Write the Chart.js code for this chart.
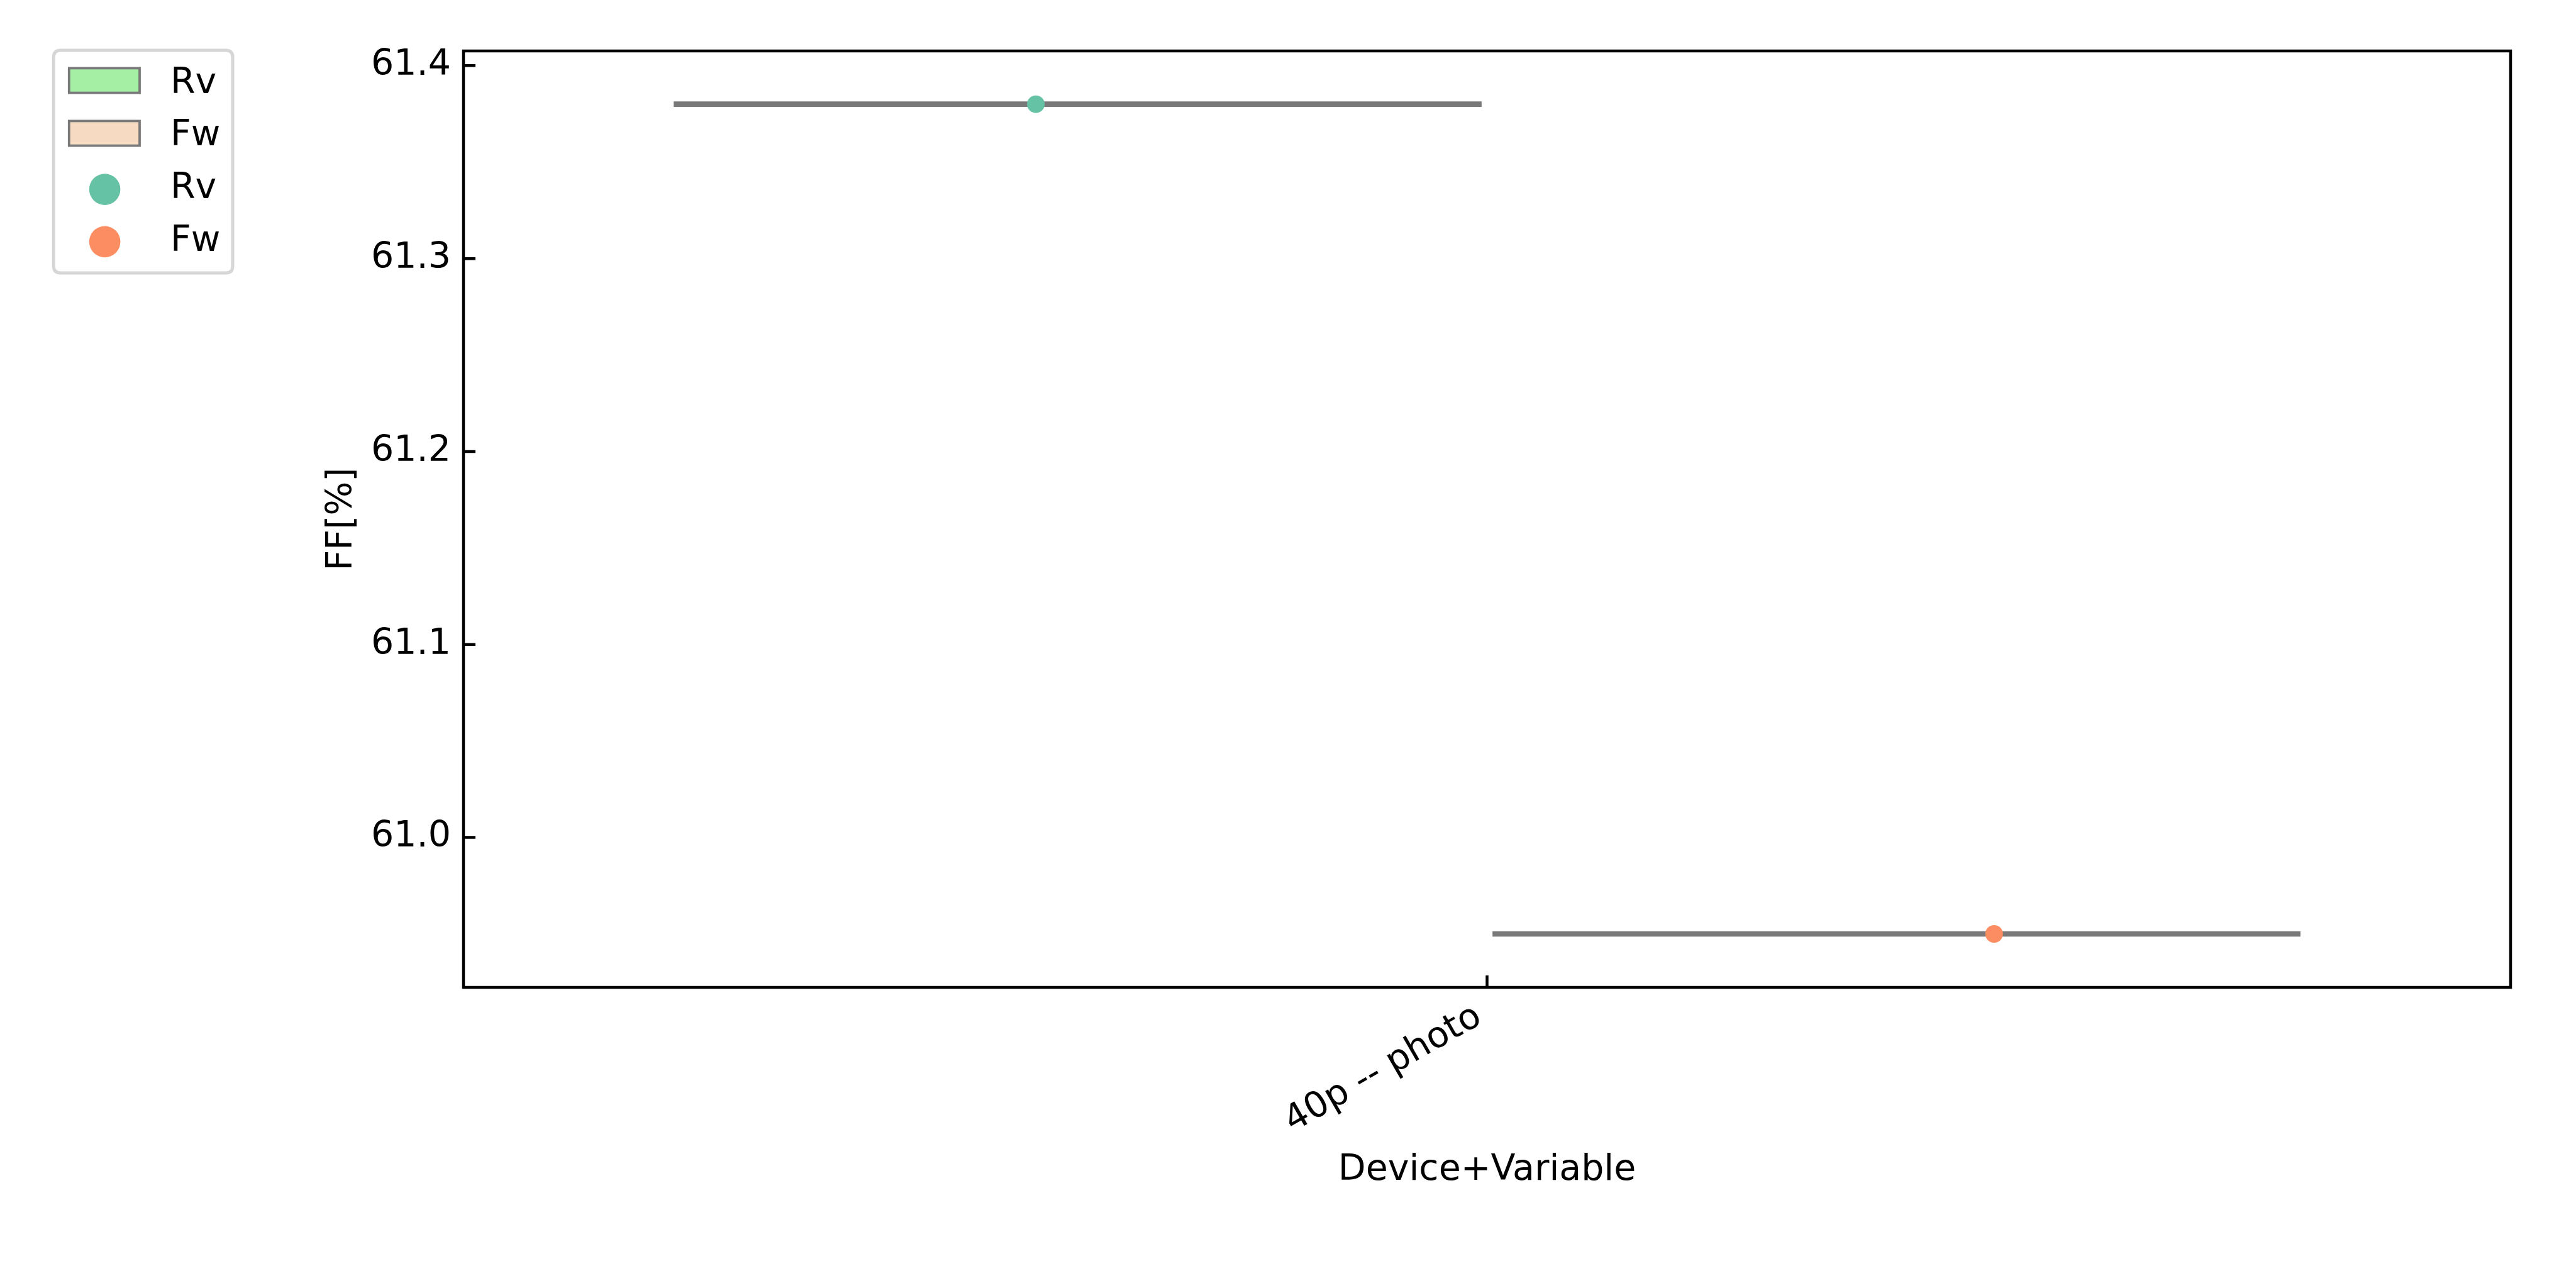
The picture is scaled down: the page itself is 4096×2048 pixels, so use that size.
<!DOCTYPE html>
<html>
<head>
<meta charset="utf-8">
<script src="https://cdn.jsdelivr.net/npm/chart.js@4"></script>
<style>
  html, body { margin: 0; padding: 0; background: #ffffff; }
  canvas { display: block; }
</style>
</head>
<body>
<canvas id="c" width="4096" height="2048" style="width:4096px;height:2048px"></canvas>
<script>
// ---- data ----
const categories = ['40p -- photo'];
const hues = ['Rv', 'Fw'];
const rvValues = [61.38];          // FF[%] per category, Rv
const fwValues = [60.95];          // FF[%] per category, Fw
const rvStripX = [-0.2204];        // strip-plot jitter positions
const fwStripX = [0.2477];
const yTicks = [61.0, 61.1, 61.2, 61.3, 61.4];
const yMin = 60.9223, yMax = 61.4076;
const xTitle = 'Device+Variable';
const yTitle = 'FF[%]';

// ---- styles ----
const FONT = 'DejaVu Sans';
const FS = 57;
const boxFill = { Rv: '#a4efa4', Fw: '#f6dac2' };
const pointColor = { Rv: '#66c2a5', Fw: '#fc8d62' };
const boxLine = '#797979';
const boxWidth = 0.8, nestedShrink = 0.98;

function boxSpan(catIndex, hueIndex) {
  const w = boxWidth / hues.length;
  const center = catIndex - boxWidth / 2 + w / 2 + hueIndex * w;
  const half = (w * nestedShrink) / 2;
  return [center - half, center + half];
}

const datasets = [];
// strip points (drawn on top: lower order)
datasets.push({
  label: 'Rv', order: 0, data: rvValues.map((v, i) => ({ x: i + rvStripX[i], y: v })),
  backgroundColor: pointColor.Rv, borderWidth: 0, pointRadius: 14, showLine: false
});
datasets.push({
  label: 'Fw', order: 0, data: fwValues.map((v, i) => ({ x: i + fwStripX[i], y: v })),
  backgroundColor: pointColor.Fw, borderWidth: 0, pointRadius: 14, showLine: false
});
// degenerate boxes (single value -> flat line)
[rvValues, fwValues].forEach((vals, h) => {
  vals.forEach((v, i) => {
    const [a, b] = boxSpan(i, h);
    datasets.push({
      label: hues[h] + ' box', order: 1,
      data: [{ x: a, y: v }, { x: b, y: v }],
      borderColor: boxLine, borderWidth: 8.7, borderCapStyle: 'square',
      pointRadius: 0, showLine: true, fill: false
    });
  });
});

const framePlugin = {
  id: 'frame',
  afterDraw(chart) {
    const { ctx, chartArea: ca, scales } = chart;
    ctx.save();
    ctx.strokeStyle = '#000';
    ctx.lineWidth = 4.5;
    ctx.strokeRect(ca.left, ca.top, ca.right - ca.left, ca.bottom - ca.top);
    // inward ticks
    const tl = 19;
    ctx.beginPath();
    yTicks.forEach(v => {
      const y = scales.y.getPixelForValue(v);
      ctx.moveTo(ca.left, y); ctx.lineTo(ca.left + tl, y);
    });
    categories.forEach((c, i) => {
      const x = scales.x.getPixelForValue(i);
      ctx.moveTo(x, ca.bottom); ctx.lineTo(x, ca.bottom - tl);
    });
    ctx.stroke();
    ctx.restore();

    // legend
    ctx.save();
    const bx = 85.3, by = 80, bw = 284.7, bh = 354, r = 11;
    ctx.fillStyle = 'rgba(255,255,255,0.8)';
    ctx.strokeStyle = '#d6d6d6';
    ctx.lineWidth = 5;
    ctx.beginPath();
    ctx.moveTo(bx + r, by);
    ctx.lineTo(bx + bw - r, by); ctx.quadraticCurveTo(bx + bw, by, bx + bw, by + r);
    ctx.lineTo(bx + bw, by + bh - r); ctx.quadraticCurveTo(bx + bw, by + bh, bx + bw - r, by + bh);
    ctx.lineTo(bx + r, by + bh); ctx.quadraticCurveTo(bx, by + bh, bx, by + bh - r);
    ctx.lineTo(bx, by + r); ctx.quadraticCurveTo(bx, by, bx + r, by);
    ctx.closePath();
    ctx.fill(); ctx.stroke();

    const textX = 271;
    ctx.font = FS + 'px "' + FONT + '"';
    ctx.textBaseline = 'alphabetic';
    ctx.textAlign = 'left';
    // patch entries
    const patchRows = [108.4, 192.4];
    const baseRows = [148.2, 230.7, 314.7, 398.7];
    hues.forEach((h, k) => {
      ctx.fillStyle = boxFill[h];
      ctx.strokeStyle = boxLine;
      ctx.lineWidth = 3.8;
      ctx.fillRect(109.8, patchRows[k], 112.2, 39.2);
      ctx.strokeRect(109.8, patchRows[k], 112.2, 39.2);
      ctx.fillStyle = '#000';
      ctx.fillText(h, textX, baseRows[k]);
    });
    const markRows = [301.1, 384.4];
    hues.forEach((h, k) => {
      ctx.fillStyle = pointColor[h];
      ctx.beginPath();
      ctx.arc(166.6, markRows[k], 24.8, 0, Math.PI * 2);
      ctx.fill();
      ctx.fillStyle = '#000';
      ctx.fillText(h, textX, baseRows[k + 2]);
    });
    ctx.restore();
  }
};

new Chart(document.getElementById('c'), {
  type: 'scatter',
  data: { datasets },
  plugins: [framePlugin],
  options: {
    responsive: false,
    animation: false,
    devicePixelRatio: 1,
    layout: { padding: { top: 81, right: 104, bottom: 0, left: 0 } },
    plugins: { legend: { display: false }, tooltip: { enabled: false }, title: { display: false } },
    scales: {
      x: {
        type: 'linear', position: 'bottom',
        min: -0.5, max: categories.length - 0.5,
        afterBuildTicks: s => { s.ticks = categories.map((c, i) => ({ value: i })); },
        afterFit: s => { s.height = 2048 - 1570; },
        ticks: {
          callback: v => categories[v] !== undefined ? categories[v] : '',
          font: { family: FONT, size: FS }, color: '#000',
          minRotation: 30, maxRotation: 30, autoSkip: false, padding: 13, labelOffset: -13
        },
        grid: { display: false, drawTicks: false },
        border: { display: false },
        title: {
          display: true, text: xTitle, color: '#000',
          font: { family: FONT, size: FS },
          padding: { top: 0, bottom: 153 }
        }
      },
      y: {
        type: 'linear', position: 'left',
        min: yMin, max: yMax,
        afterBuildTicks: s => { s.ticks = yTicks.map(v => ({ value: v })); },
        afterFit: s => { s.width = 737; },
        ticks: {
          callback: v => Number(v).toFixed(1),
          font: { family: FONT, size: FS }, color: '#000', padding: 20
        },
        grid: { display: false, drawTicks: false },
        border: { display: false },
        title: {
          display: true, text: yTitle, color: '#000',
          font: { family: FONT, size: FS },
          padding: { top: 510, bottom: 0 }
        }
      }
    }
  }
});
</script>
</body>
</html>
